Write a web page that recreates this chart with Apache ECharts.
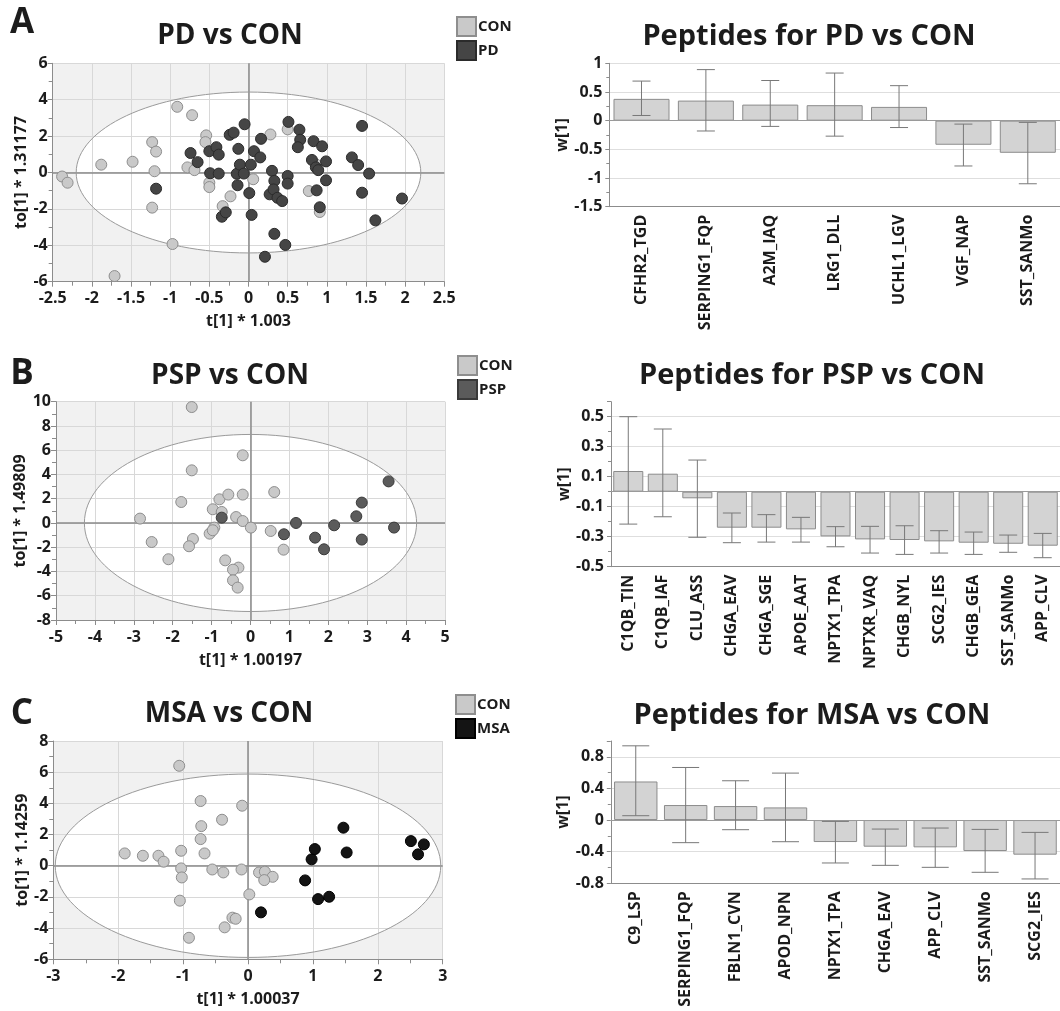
<!DOCTYPE html>
<html>
<head>
<meta charset="utf-8">
<script src="https://cdn.jsdelivr.net/npm/echarts@6/dist/echarts.min.js"></script>
<style>
html, body { margin: 0; padding: 0; background: #fff; }
#main { width: 1060px; height: 1011px; }
</style>
</head>
<body>
<div id="main"></div>
<script>
// ---- score plots (t[1] vs to[1]) ----
const conA = [[-2.38,-0.22],[-2.31,-0.56],[-1.88,0.43],[-1.48,0.59],[-1.23,1.67],[-1.18,1.15],[-1.20,0.07],[-1.23,-1.93],[-1.71,-5.69],[-0.91,3.61],[-0.72,3.15],[-0.97,-3.93],[-0.78,0.28],[-0.69,0.13],[-0.54,2.04],[-0.55,1.67],[-0.50,-0.56],[-0.50,-0.80],[-0.33,-1.85],[-0.23,-1.31],[0.06,-0.37],[0.28,2.09],[0.50,2.37],[0.77,-1.02],[0.91,-2.17],[0.86,0.45]];
const pdA = [[-1.18,-0.89],[-0.74,1.07],[-0.65,0.57],[-0.50,1.17],[-0.49,-0.04],[-0.41,1.39],[-0.38,0.98],[-0.38,-0.06],[-0.34,-2.43],[-0.29,-2.19],[-0.24,2.07],[-0.19,2.19],[-0.13,1.30],[-0.15,-0.07],[-0.14,-0.70],[-0.11,0.43],[-0.06,-0.06],[-0.05,2.65],[0.01,-1.13],[0.03,0.43],[0.04,-2.33],[0.07,1.17],[0.15,0.83],[0.16,1.85],[0.21,-4.63],[0.27,-1.20],[0.30,0.09],[0.33,-0.46],[0.32,-0.93],[0.33,-3.37],[0.37,-1.39],[0.43,-1.57],[0.47,-3.98],[0.50,-0.19],[0.50,-0.61],[0.51,2.78],[0.65,2.35],[0.66,1.80],[0.63,1.39],[0.83,1.72],[0.81,0.69],[0.86,0.28],[0.89,0.13],[0.87,-0.98],[0.91,-1.91],[0.94,1.44],[0.99,0.61],[0.99,-0.43],[1.32,0.83],[1.40,0.41],[1.45,2.56],[1.45,-1.11],[1.54,-0.06],[1.62,-2.63],[1.96,-1.43]];
const ellA = [2.2, 4.42];

const conB = [[-1.51,9.56],[-0.20,5.58],[-1.51,4.34],[-1.78,1.73],[-0.80,1.95],[-0.57,2.34],[-0.20,2.34],[0.61,2.55],[-2.84,0.36],[-0.97,1.13],[-0.74,0.91],[-0.37,0.49],[-0.20,0.16],[0.01,-0.38],[-0.93,-0.38],[-1.05,-0.88],[-0.97,-0.60],[-1.48,-1.32],[-1.58,-1.92],[-2.54,-1.57],[-2.11,-2.99],[0.52,-0.66],[0.85,-2.20],[-0.65,-3.08],[-0.31,-3.68],[-0.45,-3.85],[-0.45,-4.73],[-0.33,-5.33]];
const pspB = [[-0.74,0.44],[0.86,-0.93],[1.17,0.0],[1.66,-1.21],[1.89,-2.17],[2.15,-0.19],[2.72,0.55],[2.86,1.68],[2.86,-1.37],[3.55,3.43],[3.69,-0.38]];
const ellB = [4.27, 7.3];

const conC = [[-1.06,6.41],[-0.73,4.15],[-0.09,3.85],[-0.40,2.95],[-0.72,2.54],[-0.73,1.71],[-1.90,0.79],[-1.62,0.64],[-1.38,0.64],[-1.30,0.26],[-1.03,0.96],[-0.67,0.79],[-1.03,-0.17],[-1.02,-0.75],[-0.55,-0.24],[-0.38,-0.43],[-0.10,-0.24],[0.17,-0.43],[0.26,-0.38],[0.38,-0.71],[0.25,-0.92],[-1.05,-2.24],[0.02,-1.84],[-0.24,-3.33],[-0.19,-3.40],[-0.36,-3.95],[-0.91,-4.62]];
const msaC = [[0.20,-2.99],[0.88,-0.94],[0.98,0.41],[1.03,1.07],[1.08,-2.14],[1.25,-1.99],[1.47,2.44],[1.52,0.85],[2.51,1.58],[2.62,0.73],[2.71,1.37]];
const ellC = [2.97, 5.88];

// ---- loading plots (w[1] with error bars) ----
const pepA = ['CFHR2_TGD','SERPING1_FQP','A2M_IAQ','LRG1_DLL','UCHL1_LGV','VGF_NAP','SST_SANMo'];
const wA = [0.38, 0.35, 0.28, 0.27, 0.24, -0.42, -0.56];
const loA = [0.09, -0.18, -0.10, -0.27, -0.12, -0.79, -1.10];
const hiA = [0.69, 0.89, 0.70, 0.83, 0.61, -0.06, -0.03];

const pepB = ['C1QB_TIN','C1QB_IAF','CLU_ASS','CHGA_EAV','CHGA_SGE','APOE_AAT','NPTX1_TPA','NPTXR_VAQ','CHGB_NYL','SCG2_IES','CHGB_GEA','SST_SANMo','APP_CLV'];
const wB = [0.138, 0.12, -0.044, -0.24, -0.24, -0.251, -0.298, -0.318, -0.322, -0.331, -0.34, -0.347, -0.36];
const loB = [-0.216, -0.167, -0.304, -0.34, -0.336, -0.336, -0.367, -0.409, -0.418, -0.409, -0.418, -0.404, -0.44];
const hiB = [0.5, 0.418, 0.211, -0.142, -0.153, -0.171, -0.233, -0.231, -0.227, -0.26, -0.269, -0.289, -0.278];

const pepC = ['C9_LSP','SERPING1_FQP','FBLN1_CVN','APOD_NPN','NPTX1_TPA','CHGA_EAV','APP_CLV','SST_SANMo','SCG2_IES'];
const wC = [0.488, 0.19, 0.177, 0.16, -0.278, -0.337, -0.345, -0.392, -0.438];
const loC = [0.055, -0.286, -0.122, -0.274, -0.543, -0.573, -0.598, -0.661, -0.745];
const hiC = [0.939, 0.665, 0.497, 0.594, -0.017, -0.114, -0.101, -0.118, -0.156];

const TXT = '#1c1c1c';
const FONT = '"Open Sans", "DejaVu Sans", sans-serif';
const AX = '#8c8c8c';

const grid = [], xAxis = [], yAxis = [], series = [], legend = [], graphic = [];

function label(text, x, y, size) {
  graphic.push({
    type: 'text', x: x, y: y, silent: true,
    style: {
      text: text, fill: TXT, font: 'bold ' + size + 'px ' + FONT,
      textAlign: 'center', align: 'center', textVerticalAlign: 'middle', verticalAlign: 'middle'
    }
  });
}

function ellipse(idx, ab, fill) {
  return {
    type: 'custom', xAxisIndex: idx, yAxisIndex: idx, silent: true,
    z: fill ? 0 : 1,
    data: [[0, 0]],
    renderItem: function (params, api) {
      const c = api.coord([api.value(0), api.value(1)]);
      const s = api.size([ab[0] * 2, ab[1] * 2]);
      return {
        type: 'ellipse', z2: fill ? -0.5 : 0,
        shape: { cx: c[0], cy: c[1], rx: s[0] / 2, ry: s[1] / 2 },
        style: fill ? { fill: '#ffffff', stroke: null } : { fill: null, stroke: '#9a9a9a', lineWidth: 1 }
      };
    }
  };
}

function scorePanel(p) {
  const idx = grid.length;
  grid.push({ left: p.box[0], top: p.box[1], width: p.box[2], height: p.box[3],
    show: true, backgroundColor: '#f1f1f1', borderWidth: 0 });
  const common = {
    gridIndex: idx, type: 'value', nameLocation: 'middle',
    nameTextStyle: { fontFamily: FONT, fontWeight: 'bold', fontSize: 16, color: TXT },
    axisLine: { onZero: false, lineStyle: { color: AX } },
    axisTick: { length: 5, lineStyle: { color: AX } },
    minorTick: { show: true, splitNumber: 2, length: 4, lineStyle: { color: AX } },
    splitLine: { lineStyle: { color: '#d8d8d8' } }
  };
  xAxis.push(Object.assign({}, common, {
    min: p.x[0], max: p.x[1], interval: p.x[2], name: p.xName, nameGap: 32,
    axisLabel: { fontFamily: FONT, fontWeight: 'bold', fontSize: 16, color: TXT, margin: 9 }
  }));
  yAxis.push(Object.assign({}, common, {
    min: p.y[0], max: p.y[1], interval: p.y[2], name: p.yName, nameGap: p.yGap,
    axisLabel: { fontFamily: FONT, fontWeight: 'bold', fontSize: 16, color: TXT, margin: 5 }
  }));
  series.push(ellipse(idx, p.ell, true));
  series.push(ellipse(idx, p.ell, false));
  series.push({
    type: 'scatter', name: 'CON', xAxisIndex: idx, yAxisIndex: idx, data: p.con,
    symbolSize: 11, z: 2,
    itemStyle: { color: '#c9c9c9', borderColor: '#8e8e8e', borderWidth: 1, opacity: 1 },
    markLine: {
      silent: true, z: 1, symbol: ['none', 'none'], label: { show: false }, animation: false,
      lineStyle: { color: '#8a8a8a', width: 1.5, type: 'solid' },
      data: [{ xAxis: 0 }, { yAxis: 0 }]
    }
  });
  series.push({
    type: 'scatter', name: p.name, xAxisIndex: idx, yAxisIndex: idx, data: p.dis,
    symbolSize: 11, z: 2,
    itemStyle: { color: p.color, borderColor: p.border, borderWidth: 1, opacity: 1 }
  });
  legend.push({
    left: p.leg[0], top: p.leg[1], orient: 'vertical', icon: 'rect',
    itemWidth: 19, itemHeight: 19, itemGap: 3, padding: 0, selectedMode: false,
    textStyle: { fontFamily: FONT, fontWeight: 'bold', fontSize: 15, color: TXT, padding: [0, 0, 0, -3] },
    data: ['CON', p.name]
  });
}

function loadingPanel(p) {
  const idx = grid.length;
  grid.push({ left: p.box[0], top: p.box[1], width: p.box[2], height: p.box[3] });
  xAxis.push({
    gridIndex: idx, type: 'category', data: p.cats,
    axisLine: { onZero: false, lineStyle: { color: AX } },
    axisTick: { alignWithLabel: true, length: 5, lineStyle: { color: AX } },
    axisLabel: { interval: 0, rotate: 90, margin: 8, fontFamily: FONT, fontWeight: 'bold', fontSize: 16, color: TXT },
    splitLine: { show: false }
  });
  yAxis.push({
    gridIndex: idx, type: 'value', min: p.y[0], max: p.y[1], interval: p.y[2],
    name: 'w[1]', nameLocation: 'middle', nameGap: 37,
    nameTextStyle: { fontFamily: FONT, fontWeight: 'bold', fontSize: 16, color: TXT },
    axisLine: { show: true, lineStyle: { color: AX } },
    axisTick: { show: true, length: 4, lineStyle: { color: AX } },
    minorTick: { show: true, splitNumber: 2, length: 3, lineStyle: { color: AX } },
    axisLabel: { fontFamily: FONT, fontWeight: 'bold', fontSize: 16, color: TXT, margin: 7, showMaxLabel: p.showMax },
    splitLine: { showMaxLine: p.showMax, lineStyle: { color: '#dedede' } }
  });
  series.push({
    type: 'bar', xAxisIndex: idx, yAxisIndex: idx, data: p.w, barCategoryGap: '13%', z: 2,
    itemStyle: { color: '#d3d3d3', borderColor: '#8c8c8c', borderWidth: 1 },
    markLine: {
      silent: true, z: 3, symbol: ['none', 'none'], label: { show: false }, animation: false,
      lineStyle: { color: '#9a9a9a', width: 1, type: 'solid' },
      data: [{ yAxis: 0 }]
    }
  });
  series.push({
    type: 'custom', xAxisIndex: idx, yAxisIndex: idx, z: 4, silent: true,
    data: p.cats.map(function (c, i) { return [c, p.lo[i], p.hi[i]]; }),
    renderItem: function (params, api) {
      const top = api.coord([api.value(0), api.value(2)]);
      const bot = api.coord([api.value(0), api.value(1)]);
      const h = p.cap / 2;
      const st = { stroke: '#787878', lineWidth: 1 };
      return { type: 'group', children: [
        { type: 'line', shape: { x1: top[0], y1: top[1], x2: bot[0], y2: bot[1] }, style: st },
        { type: 'line', shape: { x1: top[0] - h, y1: top[1], x2: top[0] + h, y2: top[1] }, style: st },
        { type: 'line', shape: { x1: bot[0] - h, y1: bot[1], x2: bot[0] + h, y2: bot[1] }, style: st }
      ] };
    }
  });
}

scorePanel({ box: [52.7, 63.3, 391.6, 218.4], x: [-2.5, 2.5, 0.5], y: [-6, 6, 2],
  xName: 't[1] * 1.003', yName: 'to[1] * 1.31177', yGap: 17, ell: ellA,
  con: conA, dis: pdA, name: 'PD', color: '#454545', border: '#2b2b2b', leg: [456, 16] });
scorePanel({ box: [56, 401.7, 389, 218.3], x: [-5, 5, 1], y: [-8, 10, 2],
  xName: 't[1] * 1.00197', yName: 'to[1] * 1.49809', yGap: 20, ell: ellB,
  con: conB, dis: pspB, name: 'PSP', color: '#5b5b5b', border: '#3a3a3a', leg: [457, 355] });
scorePanel({ box: [53.3, 741, 389.4, 218.3], x: [-3, 3, 1], y: [-6, 8, 2],
  xName: 't[1] * 1.00037', yName: 'to[1] * 1.14259', yGap: 17, ell: ellC,
  con: conC, dis: msaC, name: 'MSA', color: '#141414', border: '#000000', leg: [455, 694] });

loadingPanel({ box: [609.3, 63.3, 452.7, 143.4], y: [-1.5, 1, 0.5], showMax: true,
  cats: pepA, w: wA, lo: loA, hi: hiA, cap: 18 });
loadingPanel({ box: [611, 401.7, 453.5, 165], y: [-0.5, 0.6, 0.2], showMax: false,
  cats: pepB, w: wB, lo: loB, hi: hiB, cap: 18 });
loadingPanel({ box: [610.8, 741, 453.6, 142.3], y: [-0.8, 1.0, 0.4], showMax: false,
  cats: pepC, w: wC, lo: loC, hi: hiC, cap: 27 });

label('A', 22, 23, 35);
label('B', 22, 374, 35);
label('C', 22, 714, 35);
label('PD vs CON', 230, 36, 28);
label('PSP vs CON', 230, 376, 28);
label('MSA vs CON', 229, 714, 28);
label('Peptides for PD vs CON', 809, 37, 29);
label('Peptides for PSP vs CON', 812, 376, 29);
label('Peptides for MSA vs CON', 812, 716, 29);

const chart = echarts.init(document.getElementById('main'));
chart.setOption({
  animation: false,
  backgroundColor: '#ffffff',
  textStyle: { fontFamily: FONT },
  grid: grid, xAxis: xAxis, yAxis: yAxis, legend: legend, series: series, graphic: graphic
});
</script>
</body>
</html>
